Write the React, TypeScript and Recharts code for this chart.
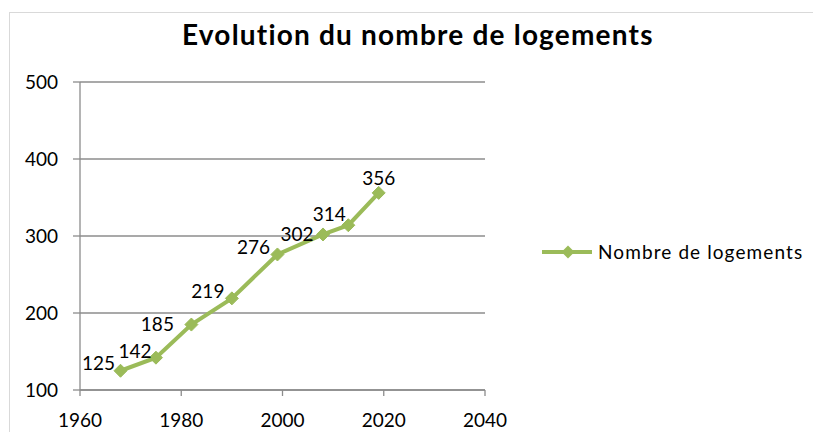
import React from 'react';
import { LineChart, Line, XAxis, YAxis, CartesianGrid, Legend, LabelList } from 'recharts';

const years = [1968, 1975, 1982, 1990, 1999, 2008, 2013, 2019];
const logements = [125, 142, 185, 219, 276, 302, 314, 356];
const xTicks = [1960, 1980, 2000, 2020, 2040];
const yTicks = [100, 200, 300, 400, 500];

// label offsets (dx, dy) from each point, as placed in the original
const labelDx = [-22, -21, -34, -24, -24, -26, -19, 0];
const labelDy = [-8, -7, -1, -8, -8, -1, -12, -15];

const data = years.map((y, i) => ({ year: y, value: logements[i] }));

const GREEN = '#9BBB59';
const FONT = 'Lato, "Open Sans", sans-serif';

const Diamond = (props: any) => {
  const { cx, cy } = props;
  if (cx == null || cy == null) return null;
  const r = 6.5;
  return (
    <path
      d={`M${cx},${cy - r} L${cx + r},${cy} L${cx},${cy + r} L${cx - r},${cy} Z`}
      fill={GREEN}
      stroke={GREEN}
      strokeWidth={1}
    />
  );
};

const PointLabel = (props: any) => {
  const { x, y, value, index } = props;
  return (
    <text
      x={x + labelDx[index]}
      y={y + labelDy[index]}
      textAnchor="middle"
      dominantBaseline="central"
      fontSize={19}
      fontFamily={FONT}
      fill="#000"
    >
      {value}
    </text>
  );
};

const renderLegend = () => (
  <div style={{ display: 'flex', alignItems: 'center', fontFamily: FONT, fontSize: 19, letterSpacing: 1.1, color: '#000' }}>
    <svg width={54} height={14} style={{ marginRight: 3 }}>
      <line x1={1} y1={7} x2={51} y2={7} stroke={GREEN} strokeWidth={4} />
      <path d="M27,0.5 L33.5,7 L27,13.5 L20.5,7 Z" fill={GREEN} />
    </svg>
    <span>Nombre de logements</span>
  </div>
);

export default function App() {
  return (
    <div style={{ position: 'absolute', left: 0, top: 0, width: 813, height: 432, background: '#fff', overflow: 'hidden' }}>
      <div
        style={{
          position: 'absolute',
          left: 9,
          top: 12,
          width: 830,
          height: 440,
          border: '1px solid #d9d9d9',
          boxSizing: 'border-box',
        }}
      />
      <div
        style={{
          position: 'absolute',
          left: 182,
          top: 17,
          whiteSpace: 'nowrap',
          fontFamily: FONT,
          fontWeight: 700,
          fontSize: 28,
          letterSpacing: 1.2,
          color: '#000',
        }}
      >
        Evolution du nombre de logements
      </div>
      <div style={{ position: 'absolute', left: 0, top: 0 }}>
        <LineChart width={813} height={432} data={data} margin={{ top: 82, right: 328, bottom: 0, left: 0 }}>
          <CartesianGrid horizontal vertical={false} stroke="#8c8c8c" strokeWidth={1.3} />
          <XAxis
            dataKey="year"
            type="number"
            domain={[1960, 2040]}
            ticks={xTicks}
            interval={0}
            height={42}
            tickSize={6}
            tickMargin={18}
            stroke="#8c8c8c"
            strokeWidth={1.3}
            tick={{ fill: '#000', fontSize: 19, fontFamily: FONT }}
          />
          <YAxis
            type="number"
            domain={[100, 500]}
            ticks={yTicks}
            interval={0}
            width={80}
            tickSize={7}
            tickMargin={15}
            stroke="#8c8c8c"
            strokeWidth={1.3}
            tick={{ fill: '#000', fontSize: 19, fontFamily: FONT }}
          />
          <Legend
            layout="horizontal"
            align="center"
            verticalAlign="middle"
            content={renderLegend}
            wrapperStyle={{ left: 541, top: 240, width: 272 }}
          />
          <Line
            dataKey="value"
            name="Nombre de logements"
            stroke={GREEN}
            strokeWidth={4}
            dot={<Diamond />}
            activeDot={false}
            isAnimationActive={false}
          >
            <LabelList dataKey="value" content={<PointLabel />} />
          </Line>
        </LineChart>
      </div>
    </div>
  );
}
